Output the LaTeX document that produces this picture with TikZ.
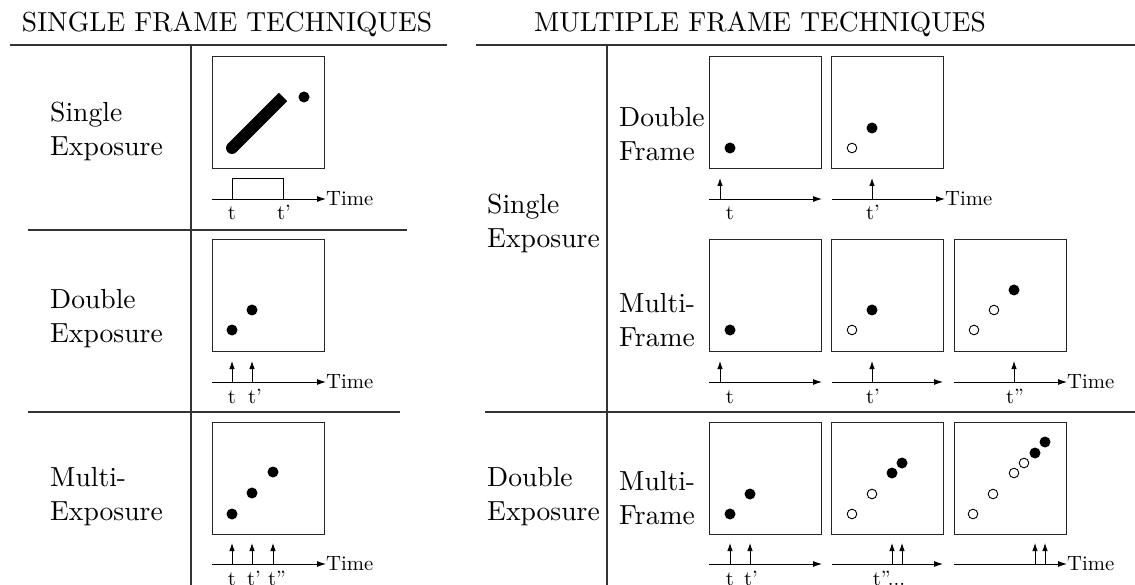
\documentclass[tikz,border=0pt]{standalone}
\usepackage{fontspec}
\setmainfont{lmroman10-regular}[Extension=.otf]
\usetikzlibrary{arrows.meta}
\begin{document}
\begin{tikzpicture}[x=1pt,y=-1pt,
 frame/.style={draw=black!85,line width=1.1pt,minimum size=112pt,inner sep=0,anchor=north west},
 rule/.style={draw=black!80,line width=1.4pt},
 axis/.style={line width=0.9pt,-{Latex[length=9pt,width=6pt]}},
 tick/.style={line width=0.9pt,-{Latex[length=8pt,width=5.5pt]}},
 head/.style={font=\fontsize{27.5}{34}\selectfont,inner sep=0},
 big/.style={font=\fontsize{27.6}{34}\selectfont,inner sep=0},
 small/.style={font=\fontsize{20.7}{26}\selectfont,inner sep=0},
 lab/.style={big,align=left,anchor=west},
 fdot/.style={fill=black},
 odot/.style={draw=black,line width=0.9pt,fill=white}
]
\useasboundingbox (0,0) rectangle (1135,585);
% headers
\node[head,anchor=base] (h1) at (227,32) {SINGLE FRAME TECHNIQUES};
\node[head,anchor=base] (h2) at (760,32) {MULTIPLE FRAME TECHNIQUES};
\draw[rule] (10,45) -- (447,45);
\draw[rule] (476,45) -- (1135,45);
\draw[rule,line width=1.1pt] (191,45) -- (191,585);
\draw[rule,line width=1.1pt] (607,45) -- (607,585);
\draw[rule,line width=1.1pt] (28,230) -- (407,230);
\draw[rule,line width=1.1pt] (28,412) -- (400,412);
\draw[rule,line width=1.1pt] (485,412) -- (1135,412);
% row labels
\node[lab] (ls1) at (50,131) {Single\\Exposure};
\node[lab] (ls2) at (50,319) {Double\\Exposure};
\node[lab] (ls3) at (50,497) {Multi-\\Exposure};
\node[lab] (rs1) at (487,223) {Single\\Exposure};
\node[lab] (rs2) at (487,497) {Double\\Exposure};
\node[lab] (rf1) at (619,134) {Double\\Frame};
\node[lab] (rf2) at (619,320) {Multi-\\Frame};
\node[lab] (rf3) at (619,498) {Multi-\\Frame};

% ===== left column =====
\node[frame] (A1) at (212,56) {};
\node[frame] (A2) at (212,239) {};
\node[frame] (A3) at (212,422) {};
% A1
\draw[line width=12pt] (232,148) -- (283,97);
\fill (232,148) circle[radius=6];
\fill[fdot] (304,97) circle[radius=5.5];
\node[small,anchor=west] (TA1) at (326,199) {Time};
\draw[axis] (212,199) -- (TA1.west);
\draw[line width=0.9pt] (232,199) -- (232,178) -- (283,178) -- (283,199);
\node[small,anchor=base] (a1t) at (232,220) {t};
\node[small,anchor=base] (a1tp) at (284,220) {t'};
% A2
\fill[fdot] (232,330) circle[radius=5.5];
\fill[fdot] (252,310) circle[radius=5.5];
\node[small,anchor=west] (TA2) at (326,382) {Time};
\draw[axis] (212,382) -- (TA2.west);
\draw[tick] (232,382) -- (232,361);
\draw[tick] (252,382) -- (252,361);
\node[small,anchor=base] (a2t) at (232,403) {t};
\node[small,anchor=base] (a2tp) at (255,403) {t'};
% A3
\fill[fdot] (232,514) circle[radius=5.5];
\fill[fdot] (252,493) circle[radius=5.5];
\fill[fdot] (273,472) circle[radius=5.5];
\node[small,anchor=west] (TA3) at (326,564) {Time};
\draw[axis] (212,564) -- (TA3.west);
\draw[tick] (232,564) -- (232,543);
\draw[tick] (252,564) -- (252,543);
\draw[tick] (273,564) -- (273,543);
\node[small,anchor=base] (a3t) at (232,585) {t};
\node[small,anchor=base] (a3tp) at (254,585) {t'};
\node[small,anchor=base] (a3tpp) at (277,585) {t''};

% ===== right: row 1 =====
\node[frame] (B11) at (709,56) {};
\node[frame] (B12) at (831,56) {};
\fill[fdot] (730,148) circle[radius=5.5];
\filldraw[odot] (852,148) circle[radius=4.8];
\fill[fdot] (872,128) circle[radius=5.5];
\draw[axis] (709,199) -- (822,199);
\node[small,anchor=west] (TB1) at (945,199) {Time};
\draw[axis] (832,199) -- (TB1.west);
\draw[tick] (720,199) -- (720,178);
\draw[tick] (872,199) -- (872,178);
\node[small,anchor=base] (b1t) at (730,220) {t};
\node[small,anchor=base] (b1tp) at (873,220) {t'};

% ===== right: row 2 =====
\node[frame] (B21) at (709,239) {};
\node[frame] (B22) at (831,239) {};
\node[frame] (B23) at (954,239) {};
\fill[fdot] (730,330) circle[radius=5.5];
\filldraw[odot] (852,330) circle[radius=4.8];
\fill[fdot] (872,310) circle[radius=5.5];
\filldraw[odot] (974,330) circle[radius=4.8];
\filldraw[odot] (994,310) circle[radius=4.8];
\fill[fdot] (1014,290) circle[radius=5.5];
\draw[axis] (709,382) -- (822,382);
\draw[axis] (832,382) -- (943,382);
\node[small,anchor=west] (TB2) at (1067,382) {Time};
\draw[axis] (954,382) -- (TB2.west);
\draw[tick] (720,382) -- (720,361);
\draw[tick] (872,382) -- (872,361);
\draw[tick] (1014,382) -- (1014,361);
\node[small,anchor=base] (b2t) at (730,403) {t};
\node[small,anchor=base] (b2tp) at (873,403) {t'};
\node[small,anchor=base] (b2tpp) at (1015,403) {t''};

% ===== right: row 3 =====
\node[frame] (B31) at (709,422) {};
\node[frame] (B32) at (831,422) {};
\node[frame] (B33) at (954,422) {};
\fill[fdot] (730,514) circle[radius=5.5];
\fill[fdot] (750,494) circle[radius=5.5];
\filldraw[odot] (852,514) circle[radius=4.8];
\filldraw[odot] (872,494) circle[radius=4.8];
\fill[fdot] (892,473) circle[radius=5.5];
\fill[fdot] (902,463) circle[radius=5.5];
\filldraw[odot] (973,514) circle[radius=4.8];
\filldraw[odot] (993,494) circle[radius=4.8];
\filldraw[odot] (1014,473) circle[radius=4.8];
\filldraw[odot] (1024,463) circle[radius=4.8];
\fill[fdot] (1035,453) circle[radius=5.5];
\fill[fdot] (1045,442) circle[radius=5.5];
\draw[axis] (709,564) -- (822,564);
\draw[axis] (832,564) -- (943,564);
\node[small,anchor=west] (TB3) at (1067,564) {Time};
\draw[axis] (954,564) -- (TB3.west);
\draw[tick] (730,564) -- (730,543);
\draw[tick] (750,564) -- (750,543);
\draw[tick] (892,564) -- (892,543);
\draw[tick] (902,564) -- (902,543);
\draw[tick] (1035,564) -- (1035,543);
\draw[tick] (1045,564) -- (1045,543);
\node[small,anchor=base] (b3t) at (730,585) {t};
\node[small,anchor=base] (b3tp) at (751,585) {t'};
\node[small,anchor=base] (b3tpp) at (889,585) {t''...};
\end{tikzpicture}
\end{document}
